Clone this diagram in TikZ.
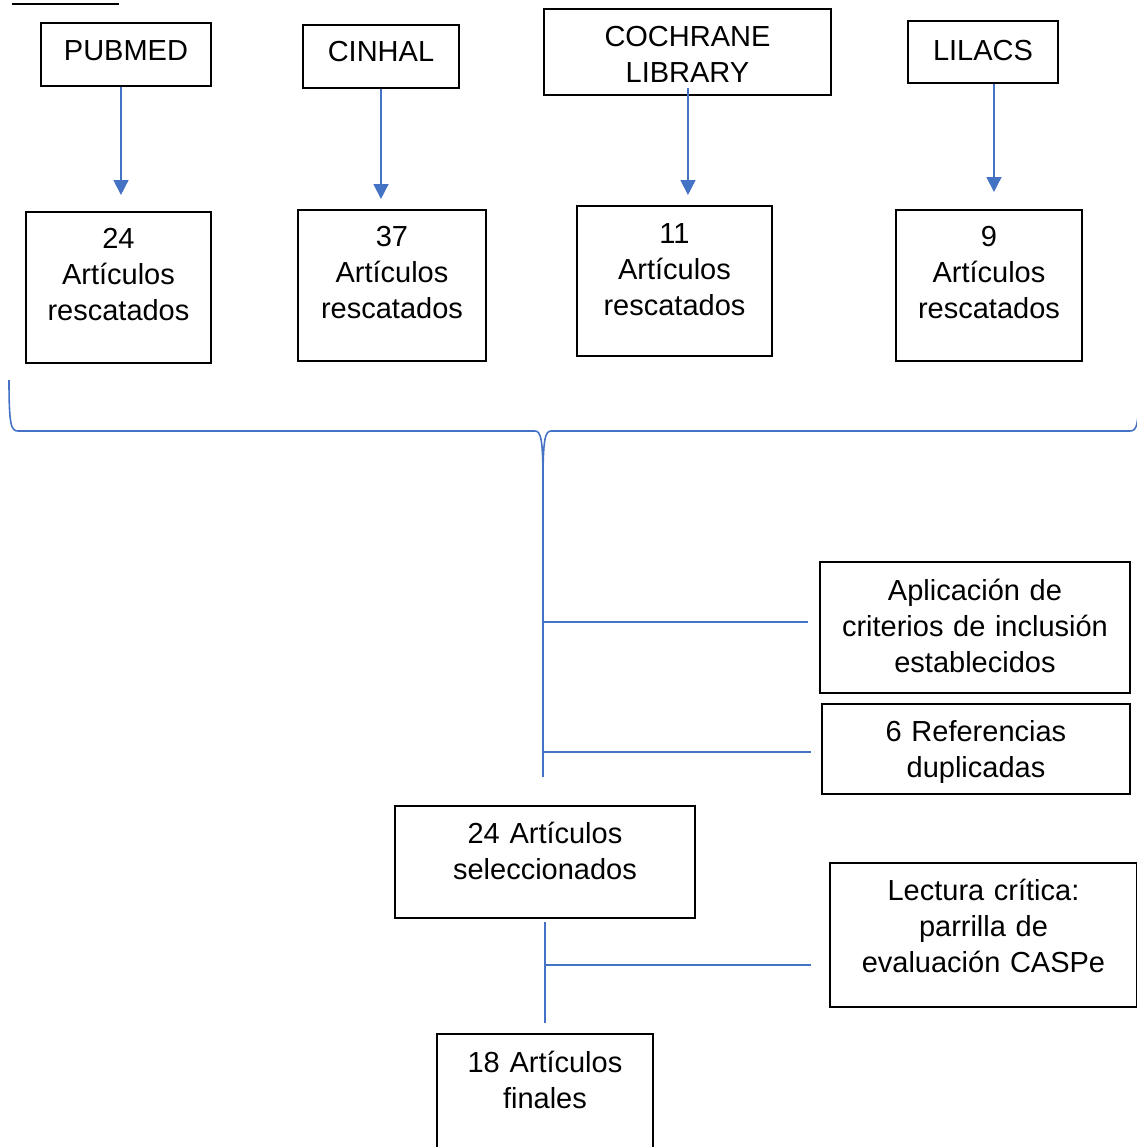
\documentclass[tikz,border=0pt]{standalone}
\usepackage{fontspec}
\setmainfont{Liberation Sans}
\usetikzlibrary{arrows.meta}
\definecolor{lineblue}{HTML}{4472C4}
\newlength\px
\setlength\px{0.2mm}

\begin{document}
\begin{tikzpicture}[x=0.2mm, y=-0.2mm,
    font=\fontsize{16.5}{20.4}\selectfont,
    box/.style={draw, line width=1.1pt, align=center, inner sep=0pt, anchor=north west},
    boxsize/.style n args={3}{text width=#1\px, text height=#2\px, text depth=#3\px},
    link/.style={draw=lineblue, line width=0.9pt},
    arr/.style={link, -{Triangle[length=8.5pt, width=8.5pt]}}]

    \useasboundingbox (0,0) rectangle (1137,1147);

    % Underline of the cut title
    \draw[line width=1.2pt] (12,4) -- (119,4);

    % Databases
    \node[box, boxsize={170}{38}{25}] (pubmed) at (40,22) {PUBMED};
    \node[box, boxsize={156}{37}{26}] (cinhal) at (302,24) {CINHAL};
    \node[box, boxsize={287}{38}{48}] (cochrane) at (543,8) {COCHRANE\\LIBRARY};
    \node[box, boxsize={150}{40}{22}] (lilacs) at (907,20) {LILACS};

    % Articles found
    \node[box, boxsize={185}{37}{114}] (res1) at (25,211) {24\\Artículos\\rescatados};
    \node[box, boxsize={188}{37}{114}] (res2) at (297,209) {37\\Artículos\\rescatados};
    \node[box, boxsize={195}{38}{112}] (res3) at (576,205) {11\\Artículos\\rescatados};
    \node[box, boxsize={186}{37}{114}] (res4) at (895,209) {9\\Artículos\\rescatados};

    % Arrows
    \draw[arr, shorten >=16\px] ([xshift=-5\px]pubmed.south) -- ([xshift=-5\px]pubmed.south |- res1.north);
    \draw[arr, shorten >=10\px] (cinhal.south) -- (cinhal.south |- res2.north);
    \draw[arr, shorten <=-8\px, shorten >=10\px] ([xshift=0.5\px]cochrane.south) -- ([xshift=0.5\px]cochrane.south |- res3.north);
    \draw[arr, shorten >=17\px] ([xshift=11\px]lilacs.south) -- ([xshift=11\px]lilacs.south |- res4.north);

    % Brace
    \draw[link] (9,380) .. controls (9,425) and (11,431) .. (18,431) -- (535,431)
        .. controls (541,431) and (543,440) .. (543,482)
        .. controls (543,440) and (545,431) .. (551,431) -- (1130,431)
        .. controls (1137,431) and (1139,425) .. (1139,380);
    \coordinate (tip) at (543,482);

    % Filters
    \node[box, boxsize={310}{39}{92}] (aplic) at (819,561) {Aplicación de\\criterios de inclusión\\establecidos};
    \node[box, boxsize={308}{38}{52}] (dupl) at (821,703) {6 Referencias\\duplicadas};
    \node[box, boxsize={300}{38}{74}] (sel) at (394,805) {24 Artículos\\seleccionados};
    \node[box, boxsize={307}{38}{106}] (lect) at (829,862) {Lectura crítica:\\parrilla de\\evaluación CASPe};
    \node[box, boxsize={216}{39}{83}] (final) at (436,1033) {18 Artículos\\finales};

    % Trunk and branches
    \draw[link, shorten >=28\px] (tip) -- (tip |- sel.north);
    \coordinate (b1) at (543,622);
    \coordinate (b2) at (543,752);
    \coordinate (b3) at (544,965);
    \draw[link, shorten >=11\px] (b1) -- (b1 -| aplic.west);
    \draw[link, shorten >=10\px] (b2) -- (b2 -| dupl.west);
    \draw[link, shorten <=3\px, shorten >=10\px] (sel.south) -- (final.north);
    \draw[link, shorten >=18\px] (b3) -- (b3 -| lect.west);

\end{tikzpicture}
\end{document}
